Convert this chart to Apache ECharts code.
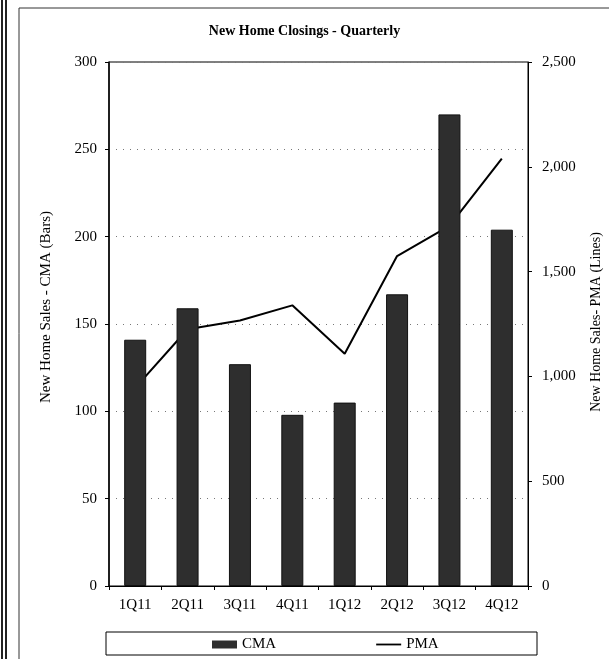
<!DOCTYPE html>
<html>
<head>
<meta charset="utf-8">
<script src="https://cdn.jsdelivr.net/npm/echarts@6/dist/echarts.min.js"></script>
<style>
html,body{margin:0;padding:0;background:#fff;}
#chart{width:609px;height:659px;}
</style>
</head>
<body>
<div id="chart"></div>
<script>
const categories = ['1Q11', '2Q11', '3Q11', '4Q11', '1Q12', '2Q12', '3Q12', '4Q12'];
const cmaValues = [141, 159, 127, 98, 105, 167, 270, 204];
const pmaValues = [945, 1225, 1267, 1339, 1108, 1574, 1718, 2039];
const titleText = 'New Home Closings - Quarterly';
const leftAxisName = 'New Home Sales - CMA (Bars)';
const rightAxisName = 'New Home Sales- PMA (Lines)';

const FONT = 'Liberation Serif';
const chart = echarts.init(document.getElementById('chart'), null, {renderer: 'canvas'});

const option = {
  animation: false,
  backgroundColor: '#fff',
  title: {
    text: titleText,
    left: 'center',
    top: 19,
    textStyle: {fontFamily: FONT, fontSize: 14, fontWeight: 'bold', color: '#000'}
  },
  grid: {
    left: 109, right: 81, top: 62, height: 524,
    show: true, borderColor: '#000', borderWidth: 1, backgroundColor: 'transparent'
  },
  legend: {
    left: 207, top: 632,
    itemWidth: 25, itemHeight: 8, itemGap: 100,
    textStyle: {fontFamily: FONT, fontSize: 15, color: '#000'},
    data: [
      {name: 'CMA', icon: 'rect', itemStyle: {color: '#2e2e2e', borderWidth: 0}},
      {name: 'PMA', icon: 'path://M0,0L0,0M0,3.1L25,3.1L25,4.9L0,4.9ZM0,8L0,8',
       itemStyle: {color: '#000', borderWidth: 0}}
    ]
  },
  xAxis: {
    type: 'category',
    data: categories,
    boundaryGap: true,
    axisLine: {lineStyle: {color: '#000', width: 1}},
    axisTick: {show: true, length: 4, lineStyle: {color: '#000'}},
    axisLabel: {fontFamily: FONT, fontSize: 15, color: '#000', margin: 12},
    splitLine: {show: false}
  },
  yAxis: [
    {
      type: 'value', min: 0, max: 300, interval: 50,
      axisLine: {show: true, lineStyle: {color: '#000', width: 1.5}},
      axisTick: {show: true, length: 4, lineStyle: {color: '#000'}},
      axisLabel: {fontFamily: FONT, fontSize: 15, color: '#000', margin: 12},
      splitLine: {show: true, lineStyle: {color: '#777', width: 1, type: [1, 6]}}
    },
    {
      type: 'value', min: 0, max: 2500, interval: 500, position: 'right',
      axisLine: {show: true, lineStyle: {color: '#000', width: 1}},
      axisTick: {show: true, length: 4, lineStyle: {color: '#000'}},
      axisLabel: {
        fontFamily: FONT, fontSize: 15, color: '#000', margin: 14,
        formatter: v => v.toLocaleString('en-US')
      },
      splitLine: {show: false}
    }
  ],
  series: [
    {
      name: 'CMA', type: 'bar', data: cmaValues, barWidth: 22, z: 4,
      itemStyle: {color: '#2e2e2e', borderColor: '#111', borderWidth: 1}
    },
    {
      name: 'PMA', type: 'line', yAxisIndex: 1, data: pmaValues, z: 3,
      symbol: 'none', lineStyle: {color: '#000', width: 2}, itemStyle: {color: '#000'}
    }
  ],
  graphic: [
    {type: 'line', shape: {x1: 2, y1: 0, x2: 2, y2: 659}, style: {stroke: '#222', lineWidth: 2}},
    {type: 'line', shape: {x1: 6, y1: 0, x2: 6, y2: 659}, style: {stroke: '#222', lineWidth: 2}},
    {type: 'line', shape: {x1: 19, y1: 8, x2: 19, y2: 659}, style: {stroke: '#333', lineWidth: 1}},
    {type: 'line', shape: {x1: 19, y1: 8, x2: 609, y2: 8}, style: {stroke: '#333', lineWidth: 1}},
    {type: 'rect', shape: {x: 106, y: 632, width: 431, height: 23}, style: {fill: 'none', stroke: '#000', lineWidth: 1}, z: -1},
    {
      type: 'text', x: 46, y: 307, rotation: Math.PI / 2,
      style: {text: leftAxisName, fontFamily: FONT, fontSize: 15, fill: '#000', textAlign: 'center', textVerticalAlign: 'middle'}
    },
    {
      type: 'text', x: 596, y: 322, rotation: Math.PI / 2,
      style: {text: rightAxisName, fontFamily: FONT, fontSize: 14, fill: '#000', textAlign: 'center', textVerticalAlign: 'middle'}
    }
  ]
};
chart.setOption(option);
</script>
</body>
</html>
